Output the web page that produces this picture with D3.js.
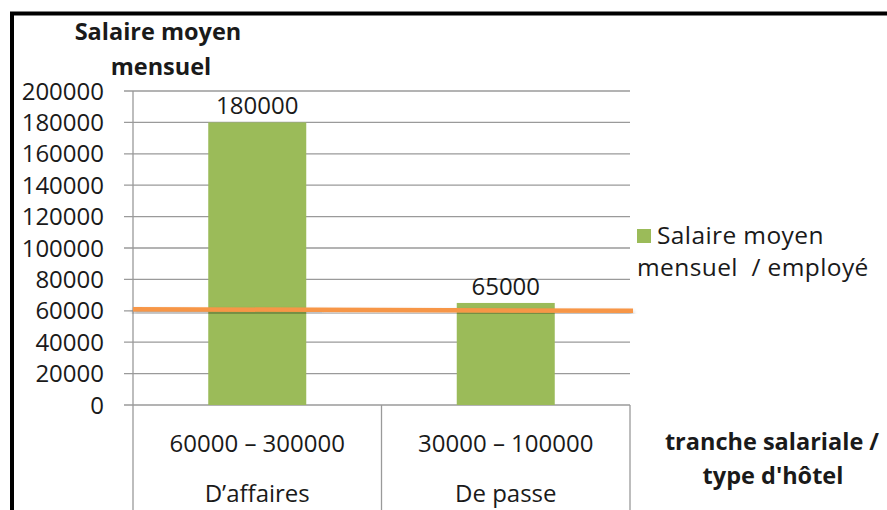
<!DOCTYPE html>
<html>
<head>
<meta charset="utf-8">
<script src="https://cdn.jsdelivr.net/npm/d3@7"></script>
<style>
  body { margin: 0; background: #fff; }
  svg { display: block; }
  text { font-family: "Open Sans", "Noto Sans", sans-serif; fill: #1a1a1a; }
</style>
</head>
<body>
<div id="chart"></div>
<script>
const width = 887;
const height = 510;
const margin = { top: 91, left: 133, right: 257, bottom: 105 };

// data
const ranges = ["60000 \u2013 300000", "30000 \u2013 100000"];
const hotelTypes = ["D\u2019affaires", "De passe"];
const salaries = [180000, 65000];
const refLine = [61000, 60000]; // orange reference line, left end / right end
const yTicks = [0, 20000, 40000, 60000, 80000, 100000, 120000, 140000, 160000, 180000, 200000];

const plotW = width - margin.left - margin.right;
const plotH = height - margin.top - margin.bottom;

const svg = d3.select("#chart")
    .append("svg")
    .attr("width", width)
    .attr("height", height);

const defs = svg.append("defs");
const shadow = defs.append("filter").attr("id", "shadow")
    .attr("x", "-5%").attr("y", "-200%").attr("width", "110%").attr("height", "500%");
shadow.append("feDropShadow")
    .attr("dx", 0).attr("dy", 3).attr("stdDeviation", 2)
    .attr("flood-color", "#000").attr("flood-opacity", 0.35);

// frame of the original screenshot
svg.append("path")
    .attr("d", `M12,${height} V13.5 H${width}`)
    .attr("fill", "none")
    .attr("stroke", "#000")
    .attr("stroke-width", 4);

const g = svg.append("g")
    .attr("transform", `translate(${margin.left},${margin.top})`);

const x = d3.scaleBand().domain(ranges).range([0, plotW]).paddingInner(0).paddingOuter(0);
const y = d3.scaleLinear().domain([0, 200000]).range([plotH, 0]);

// gridlines
g.append("g")
    .selectAll("line")
    .data(yTicks)
    .join("line")
    .attr("x1", -9)
    .attr("x2", plotW)
    .attr("y1", d => y(d))
    .attr("y2", d => y(d))
    .attr("stroke", "#9a9a9a")
    .attr("stroke-width", 1.3);

// y axis line
g.append("line")
    .attr("x1", 0).attr("x2", 0)
    .attr("y1", 0).attr("y2", plotH)
    .attr("stroke", "#9a9a9a")
    .attr("stroke-width", 1.3);

// y tick labels
g.append("g")
    .selectAll("text")
    .data(yTicks)
    .join("text")
    .attr("x", -29)
    .attr("y", d => y(d) + 8.5)
    .attr("text-anchor", "end")
    .style("font-size", "24px")
    .text(d => d);

// category separators below the axis
const edges = [0, ...ranges.map(r => x(r) + x.bandwidth())];
g.append("g")
    .selectAll("line")
    .data(edges)
    .join("line")
    .attr("x1", d => d).attr("x2", d => d)
    .attr("y1", plotH).attr("y2", height - margin.top)
    .attr("stroke", "#9a9a9a")
    .attr("stroke-width", 1.3);

// bars
const barW = 98;
g.append("g")
    .selectAll("rect")
    .data(salaries)
    .join("rect")
    .attr("x", (d, i) => x(ranges[i]) + (x.bandwidth() - barW) / 2)
    .attr("y", d => y(d))
    .attr("width", barW)
    .attr("height", d => plotH - y(d))
    .attr("fill", "#9bbb59");

// value labels
g.append("g")
    .selectAll("text")
    .data(salaries)
    .join("text")
    .attr("x", (d, i) => x(ranges[i]) + x.bandwidth() / 2)
    .attr("y", d => y(d) - 8)
    .attr("text-anchor", "middle")
    .style("font-size", "24px")
    .text(d => d);

// orange reference line
g.append("line")
    .attr("x1", 0)
    .attr("x2", plotW + 3)
    .attr("y1", y(refLine[0]))
    .attr("y2", y(refLine[1]))
    .attr("stroke", "#f79646")
    .attr("stroke-width", 4.5)
    .attr("filter", "url(#shadow)");

// category labels, two levels
g.append("g")
    .selectAll("text")
    .data(ranges)
    .join("text")
    .attr("x", d => x(d) + x.bandwidth() / 2)
    .attr("y", plotH + 47)
    .attr("text-anchor", "middle")
    .style("font-size", "24px")
    .text(d => d);

g.append("g")
    .selectAll("text")
    .data(hotelTypes)
    .join("text")
    .attr("x", (d, i) => x(ranges[i]) + x.bandwidth() / 2)
    .attr("y", plotH + 97)
    .attr("text-anchor", "middle")
    .style("font-size", "24px")
    .text(d => d);

// y axis title
const yTitle = svg.append("text")
    .attr("text-anchor", "middle")
    .style("font-size", "23.5px")
    .style("font-weight", "bold");
yTitle.append("tspan").attr("x", 158).attr("y", 40).text("Salaire moyen");
yTitle.append("tspan").attr("x", 161).attr("y", 75).text("mensuel");

// x axis title
const xTitle = svg.append("text")
    .attr("text-anchor", "middle")
    .style("font-size", "23.5px")
    .style("font-weight", "bold");
xTitle.append("tspan").attr("x", 772).attr("y", 450).text("tranche salariale /");
xTitle.append("tspan").attr("x", 773).attr("y", 484).text("type d'h\u00f4tel");

// legend
const legend = svg.append("g").attr("transform", "translate(637,229)");
legend.append("rect")
    .attr("width", 14).attr("height", 14)
    .attr("fill", "#9bbb59");
const legText = legend.append("text")
    .style("font-size", "24.5px")
    .style("letter-spacing", "0.4px");
legText.append("tspan").attr("x", 20).attr("y", 15).text("Salaire moyen");
legText.append("tspan").attr("x", 0).attr("y", 47).attr("xml:space", "preserve").text("mensuel  / employé");
</script>
</body>
</html>
